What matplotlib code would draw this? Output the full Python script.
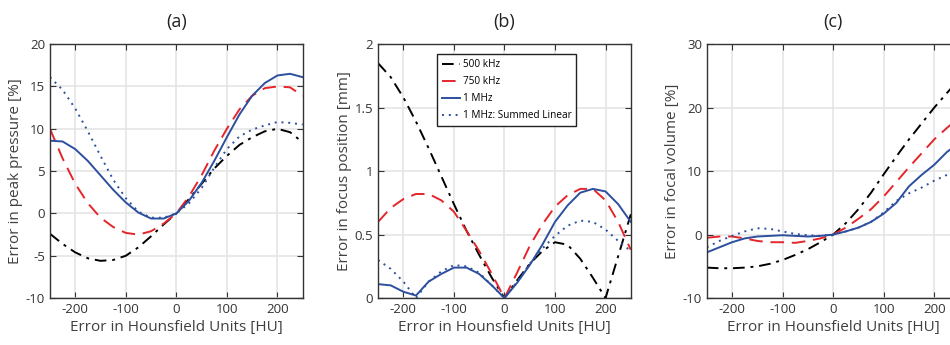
import numpy as np
import matplotlib.pyplot as plt

plt.rcParams['font.family'] = ['Open Sans', 'DejaVu Sans']
plt.rcParams['axes.unicode_minus'] = False

hu = [-250, -225, -200, -175, -150, -125, -100, -75, -50, -25, 0,
      25, 50, 75, 100, 125, 150, 175, 200, 225, 250]

# (a) error in peak pressure [%]
pp_500 = [-2.4, -3.6, -4.6, -5.3, -5.6, -5.5, -5.0, -4.0, -2.7, -1.3, 0,
          1.7, 3.5, 5.3, 6.8, 8.1, 9.0, 9.7, 10.0, 9.6, 8.4]
pp_750 = [10.0, 6.5, 3.5, 1.2, -0.5, -1.6, -2.3, -2.5, -2.1, -1.2, 0,
          2.0, 4.5, 7.4, 10.0, 12.3, 13.9, 14.8, 15.0, 14.9, 13.9]
pp_1m = [8.6, 8.5, 7.6, 6.2, 4.5, 2.8, 1.3, 0.1, -0.6, -0.6, 0,
         1.5, 3.6, 6.2, 9.0, 11.7, 13.9, 15.4, 16.3, 16.5, 16.1]
pp_sum = [16.1, 14.6, 12.4, 9.7, 6.8, 4.0, 1.8, 0.2, -0.5, -0.5, 0,
          1.2, 3.0, 5.4, 7.6, 9.1, 9.9, 10.4, 10.8, 10.7, 10.5]

# (b) error in focus position [mm]
fp_500 = [1.85, 1.74, 1.58, 1.39, 1.18, 0.96, 0.74, 0.53, 0.34, 0.16, 0.0,
          0.14, 0.27, 0.37, 0.44, 0.42, 0.31, 0.16, 0.0, 0.33, 0.66]
fp_750 = [0.60, 0.71, 0.78, 0.82, 0.82, 0.77, 0.68, 0.53, 0.37, 0.19, 0.0,
          0.20, 0.41, 0.58, 0.72, 0.81, 0.86, 0.86, 0.77, 0.60, 0.38]
fp_1m = [0.11, 0.10, 0.05, 0.02, 0.13, 0.19, 0.24, 0.24, 0.19, 0.10, 0.0,
         0.12, 0.26, 0.42, 0.60, 0.73, 0.83, 0.86, 0.84, 0.74, 0.60]
fp_sum = [0.30, 0.23, 0.13, 0.0, 0.13, 0.21, 0.26, 0.25, 0.20, 0.10, 0.0,
          0.13, 0.27, 0.39, 0.49, 0.57, 0.61, 0.60, 0.54, 0.45, 0.37]

# (c) error in focal volume [%]
fv_500 = [-5.2, -5.3, -5.3, -5.2, -5.0, -4.6, -4.0, -3.2, -2.3, -1.2, 0,
          1.8, 4.0, 6.6, 9.5, 12.3, 15.0, 17.5, 20.0, 22.3, 24.5]
fv_750 = [-0.5, -0.3, -0.3, -0.6, -1.0, -1.2, -1.2, -1.3, -1.0, -0.6, 0,
          1.1, 2.5, 4.0, 6.0, 8.3, 10.6, 12.8, 15.0, 16.8, 18.5]
fv_1m = [-2.8, -2.0, -1.2, -0.6, -0.3, -0.2, -0.1, -0.2, -0.3, -0.2, 0,
         0.5, 1.1, 2.0, 3.3, 5.0, 7.6, 9.4, 11.0, 13.0, 14.5]
fv_sum = [-2.0, -1.0, -0.2, 0.5, 1.0, 0.9, 0.5, 0.1, -0.1, -0.2, 0,
          0.5, 1.1, 2.0, 3.5, 5.3, 6.5, 7.4, 8.5, 9.4, 10.3]

labels = ['500 kHz', '750 kHz', '1 MHz', '1 MHz: Summed Linear']

blk = 'black'
red = '#e4262b'
blue = '#2c4f9e'
txt = '#404040'

fig = plt.figure(figsize=(9.5, 3.45), dpi=100)

panels = [
    ('(a)', 'Error in peak pressure [%]', (pp_500, pp_750, pp_1m, pp_sum),
     (-10, 20), [-10, -5, 0, 5, 10, 15, 20], 0.0526),
    ('(b)', 'Error in focus position [mm]', (fp_500, fp_750, fp_1m, fp_sum),
     (0, 2), [0, 0.5, 1, 1.5, 2], 0.398),
    ('(c)', 'Error in focal volume [%]', (fv_500, fv_750, fv_1m, fv_sum),
     (-10, 30), [-10, 0, 10, 20, 30], 0.744),
]

for title, ylab, series, ylim, yt, left in panels:
    ax = fig.add_axes([left, 0.136, 0.266, 0.736])
    s500, s750, s1m, ssum = series
    ax.plot(hu, s500, color=blk, lw=1.4, dashes=(6, 3, 1.5, 3), label=labels[0])
    ax.plot(hu, s750, color=red, lw=1.4, dashes=(7, 4), label=labels[1])
    ax.plot(hu, s1m, color=blue, lw=1.4, label=labels[2])
    ax.plot(hu, ssum, color=blue, lw=1.4, dashes=(1, 2.5), label=labels[3])
    ax.set_xlim(-250, 250)
    ax.set_ylim(*ylim)
    ax.set_xticks([-200, -100, 0, 100, 200])
    ax.set_yticks(yt)
    ax.set_yticklabels([('%g' % v) for v in yt])
    ax.grid(True, color='#e3e3e3', lw=1.1)
    ax.set_axisbelow(True)
    ax.tick_params(direction='in', top=True, right=True, length=4,
                   labelsize=9.5, labelcolor='#333333', color='#333333')
    for sp in ax.spines.values():
        sp.set_color('#333333')
        sp.set_linewidth(1.0)
    ax.set_title(title, fontsize=13, color='#222222', pad=12)
    ax.set_xlabel('Error in Hounsfield Units [HU]', fontsize=11, color=txt, labelpad=3)
    ax.set_ylabel(ylab, fontsize=11, color=txt, labelpad=2)
    if title == '(b)':
        leg = ax.legend(loc='upper center', bbox_to_anchor=(0.508, 0.96), fontsize=7.2,
                        handlelength=1.8, fancybox=False, framealpha=1,
                        borderpad=0.5, labelspacing=0.6, handletextpad=0.3,
                        borderaxespad=0)
        leg.get_frame().set_edgecolor('#222222')
        leg.get_frame().set_linewidth(1.0)

fig.savefig('out.png', dpi=100)
